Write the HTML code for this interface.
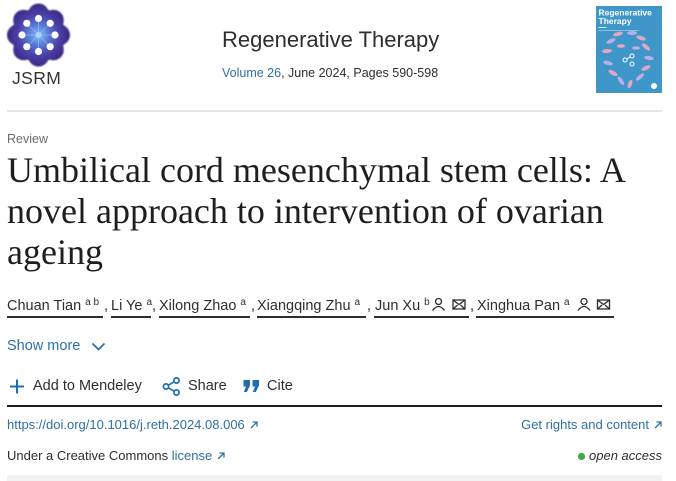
<!DOCTYPE html>
<html>
<head>
<meta charset="utf-8">
<style>
  html,body{margin:0;padding:0;}
  body{width:676px;height:481px;overflow:hidden;position:relative;background:#fff;font-family:"Liberation Sans",Arial,sans-serif;color:#2e2e2e;}
  .a{position:absolute;white-space:nowrap;}
  .link{color:#2f6fa5;}
  .sup{font-size:10px;position:relative;top:-5px;margin-left:4px;}
  .ul{position:absolute;top:316px;height:1.5px;background:#2e2e2e;}
  .au{position:absolute;top:299.4px;font-size:14.5px;line-height:14.5px;white-space:nowrap;color:#2e2e2e;}
</style>
</head>
<body>

<!-- Logo -->
<svg class="a" style="left:0;top:0" width="80" height="92" viewBox="0 0 80 92">
  <defs>
    <radialGradient id="lg" cx="38.5" cy="35" r="32" gradientUnits="userSpaceOnUse">
      <stop offset="0%" stop-color="#8cc0f5"/>
      <stop offset="30%" stop-color="#5a7fd8"/>
      <stop offset="65%" stop-color="#4a3fa8"/>
      <stop offset="100%" stop-color="#3a2680"/>
    </radialGradient>
    <filter id="bl" x="-10%" y="-10%" width="120%" height="120%"><feGaussianBlur stdDeviation="0.7"/></filter>
  </defs>
  <g fill="url(#lg)" filter="url(#bl)">
    <circle cx="38.5" cy="35" r="27"/>
    <circle cx="38.5" cy="14" r="10.5"/><circle cx="38.5" cy="56" r="10.5"/>
    <circle cx="17.5" cy="35" r="10.5"/><circle cx="59.5" cy="35" r="10.5"/>
    <circle cx="23.7" cy="20.2" r="10.5"/><circle cx="53.3" cy="20.2" r="10.5"/>
    <circle cx="23.7" cy="49.8" r="10.5"/><circle cx="53.3" cy="49.8" r="10.5"/>
  </g>
  <g stroke="#8fc3f5" stroke-width="0.8" opacity="0.8">
    <line x1="38.5" y1="22" x2="38.5" y2="48"/>
    <line x1="25.5" y1="35" x2="51.5" y2="35"/>
    <line x1="29" y1="25.5" x2="48" y2="44.5"/>
    <line x1="48" y1="25.5" x2="29" y2="44.5"/>
  </g>
  <circle cx="38.5" cy="35" r="3" fill="#a8d6ff"/>
  <g fill="#fff">
    <circle cx="38.5" cy="18.5" r="3.6"/><circle cx="38.5" cy="51.5" r="3.6"/>
    <circle cx="22" cy="35" r="3.6"/><circle cx="55" cy="35" r="3.6"/>
    <circle cx="26.8" cy="23.3" r="3.6"/><circle cx="50.2" cy="23.3" r="3.6"/>
    <circle cx="26.8" cy="46.7" r="3.6"/><circle cx="50.2" cy="46.7" r="3.6"/>
  </g>
</svg>
<div class="a" style="left:12px;top:70px;font-size:17.5px;line-height:17.5px;letter-spacing:0.4px;color:#333;">JSRM</div>

<!-- Journal title -->
<div class="a" style="left:222px;top:29px;font-size:22px;line-height:22px;color:#2e2e2e;">Regenerative Therapy</div>
<div class="a" style="left:222px;top:67.4px;font-size:12.5px;line-height:12.5px;"><span class="link">Volume 26</span>, June 2024, Pages 590-598</div>

<!-- Cover -->
<svg class="a" style="left:596px;top:6px" width="66" height="87" viewBox="0 0 66 87">
  <rect x="0" y="0" width="66" height="87" fill="#3f97c9"/>
  <text x="2.5" y="9.5" font-family="Liberation Sans, sans-serif" font-weight="bold" font-size="8.5" fill="#fff">Regenerative</text>
  <text x="2.5" y="18" font-family="Liberation Sans, sans-serif" font-weight="bold" font-size="8.5" fill="#fff">Therapy</text>
  <rect x="2.5" y="21" width="8" height="1" fill="#cfe6f5"/>
  <rect x="2.5" y="24" width="40" height="0.8" fill="#9ccbe6"/>
  <g>
    <ellipse cx="22" cy="28" rx="5" ry="2" fill="#e6a6c2" transform="rotate(-15 22 28)"/>
    <ellipse cx="36" cy="27" rx="5" ry="2" fill="#b9aee6"/>
    <ellipse cx="45" cy="32" rx="5" ry="2" fill="#e6a6c2" transform="rotate(20 45 32)"/>
    <ellipse cx="15" cy="35" rx="5" ry="2" fill="#b9aee6" transform="rotate(-25 15 35)"/>
    <ellipse cx="50" cy="41" rx="5" ry="2" fill="#e6a6c2" transform="rotate(40 50 41)"/>
    <ellipse cx="11" cy="45" rx="5" ry="2" fill="#e6a6c2" transform="rotate(-5 11 45)"/>
    <ellipse cx="53" cy="52" rx="5" ry="2" fill="#b9aee6" transform="rotate(10 53 52)"/>
    <ellipse cx="12" cy="57" rx="5" ry="2" fill="#b9aee6" transform="rotate(15 12 57)"/>
    <ellipse cx="50" cy="62" rx="5" ry="2" fill="#e6a6c2" transform="rotate(-25 50 62)"/>
    <ellipse cx="17" cy="67" rx="5" ry="2" fill="#e6a6c2" transform="rotate(30 17 67)"/>
    <ellipse cx="44" cy="71" rx="5" ry="2" fill="#b9aee6" transform="rotate(-40 44 71)"/>
    <ellipse cx="25" cy="75" rx="5" ry="2" fill="#b9aee6" transform="rotate(55 25 75)"/>
    <ellipse cx="34" cy="78" rx="4.5" ry="2" fill="#e6a6c2" transform="rotate(-70 34 78)"/>
    <ellipse cx="25" cy="40" rx="4" ry="1.8" fill="#e6a6c2"/>
    <ellipse cx="40" cy="42" rx="4" ry="1.8" fill="#b9aee6"/>
  </g>
  <g stroke="#fff" stroke-width="1" fill="none">
    <circle cx="29" cy="54" r="2"/>
    <circle cx="36" cy="50" r="2"/>
    <circle cx="36" cy="58" r="2"/>
    <line x1="31" y1="53" x2="34" y2="51"/>
  </g>
  <circle cx="58" cy="80" r="3" fill="#fff"/>
</svg>

<!-- header divider -->
<div class="a" style="left:7px;top:109.5px;width:655px;height:2px;background:#e6e6e6;"></div>

<!-- Review -->
<div class="a" style="left:7px;top:133px;font-size:12.5px;line-height:12.5px;color:#6b6b6b;">Review</div>

<!-- Title -->
<div class="a" style="left:7px;top:149.85px;font-family:'Liberation Serif','Times New Roman',serif;font-size:36px;line-height:41px;color:#1e1e1e;">Umbilical cord mesenchymal stem cells: A<br>novel approach to intervention of ovarian<br>ageing</div>

<!-- Authors -->
<div class="au" style="left:7px;">Chuan Tian<span class="sup">a b</span></div>
<div class="ul" style="left:7px;width:96px;"></div>
<div class="au" style="left:104px;">,</div>

<div class="au" style="left:111px;">Li Ye<span class="sup">a</span></div>
<div class="ul" style="left:111px;width:40px;"></div>
<div class="au" style="left:152px;">,</div>

<div class="au" style="left:159px;">Xilong Zhao<span class="sup">a</span></div>
<div class="ul" style="left:159px;width:91px;"></div>
<div class="au" style="left:251px;">,</div>

<div class="au" style="left:257px;">Xiangqing Zhu<span class="sup">a</span></div>
<div class="ul" style="left:257px;width:109px;"></div>
<div class="au" style="left:367px;">,</div>

<div class="au" style="left:375px;">Jun Xu<span class="sup">b</span></div>
<div class="ul" style="left:374px;width:95px;"></div>
<div class="au" style="left:470px;">,</div>

<div class="au" style="left:477px;">Xinghua Pan<span class="sup">a</span></div>
<div class="ul" style="left:476px;width:138px;"></div>

<!-- icons -->
<svg class="a" style="left:0;top:0;" width="676" height="481">
  <g stroke="#2e2e2e" stroke-width="1.3" fill="none">
    <circle cx="438.5" cy="301.5" r="3"/>
    <path d="M432.5 310.5 q6 -8 12 0"/>
    <rect x="453" y="300" width="12" height="9"/>
    <path d="M453 300 l6 4.5 l6 -4.5 M453 309 l4.5 -4 M465 309 l-4.5 -4"/>
    <circle cx="584" cy="301.5" r="3"/>
    <path d="M578 310.5 q6 -8 12 0"/>
    <rect x="597.5" y="300" width="12" height="9"/>
    <path d="M597.5 300 l6 4.5 l6 -4.5 M597.5 309 l4.5 -4 M609.5 309 l-4.5 -4"/>
  </g>

  <!-- Show more chevron -->
  <polyline points="92.5,343.5 98.5,349.5 104.5,343.5" fill="none" stroke="#2f6fa5" stroke-width="1.8"/>

  <!-- Plus -->
  <g stroke="#1f6fae" stroke-width="2">
    <line x1="10" y1="386.5" x2="24" y2="386.5"/>
    <line x1="17" y1="379.5" x2="17" y2="393.5"/>
  </g>
  <!-- Share -->
  <g stroke="#1f6fae" stroke-width="1.7" fill="none">
    <circle cx="176.5" cy="380.5" r="2.6"/>
    <circle cx="166" cy="386.5" r="2.6"/>
    <circle cx="176.5" cy="392.5" r="2.6"/>
    <line x1="168.3" y1="385.2" x2="174.2" y2="381.8"/>
    <line x1="168.3" y1="387.8" x2="174.2" y2="391.2"/>
  </g>
  <!-- Cite -->
  <g fill="#1f6fae">
    <path d="M243.5 380 h6.5 v5.5 l-3.2 6.5 h-3 l2.3 -5.5 h-2.6 z"/>
    <path d="M252.5 380 h6.5 v5.5 l-3.2 6.5 h-3 l2.3 -5.5 h-2.6 z"/>
  </g>

  <!-- green dot -->
  <circle cx="581.5" cy="456.5" r="3.6" fill="#3dab4a"/>
</svg>

<!-- Show more -->
<div class="a link" style="left:7px;top:339.2px;font-size:14.5px;line-height:14.5px;">Show more</div>

<!-- action row -->
<div class="a" style="left:33px;top:379.2px;font-size:14.5px;line-height:14.5px;">Add to Mendeley</div>
<div class="a" style="left:188px;top:379.2px;font-size:14.5px;line-height:14.5px;">Share</div>
<div class="a" style="left:267px;top:379.2px;font-size:14.5px;line-height:14.5px;">Cite</div>

<!-- black divider -->
<div class="a" style="left:7px;top:405px;width:655px;height:2px;background:#1f1f1f;"></div>

<!-- DOI row -->
<div class="a link" style="left:7px;top:418px;font-size:13px;line-height:13px;">https://doi.org/10.1016/j.reth.2024.08.006<svg style="margin-left:5px;vertical-align:0px" width="8" height="8" viewBox="0 0 8 8"><g stroke="#2f6fa5" stroke-width="1.3" fill="none"><line x1="1" y1="7" x2="7" y2="1"/><polyline points="2.5,1 7,1 7,5.5"/></g></svg></div>
<div class="a link" style="right:14px;top:418px;font-size:13px;line-height:13px;">Get rights and content<svg style="margin-left:5px;vertical-align:0px" width="8" height="8" viewBox="0 0 8 8"><g stroke="#2f6fa5" stroke-width="1.3" fill="none"><line x1="1" y1="7" x2="7" y2="1"/><polyline points="2.5,1 7,1 7,5.5"/></g></svg></div>

<!-- license row -->
<div class="a" style="left:7px;top:449px;font-size:13px;line-height:13px;">Under a Creative Commons <span class="link">license</span><svg style="margin-left:5px;vertical-align:0px" width="8" height="8" viewBox="0 0 8 8"><g stroke="#2f6fa5" stroke-width="1.3" fill="none"><line x1="1" y1="7" x2="7" y2="1"/><polyline points="2.5,1 7,1 7,5.5"/></g></svg></div>
<div class="a" style="right:14px;top:449px;font-size:13px;line-height:13px;font-style:italic;">open access</div>

<!-- bottom band -->
<div class="a" style="left:7px;top:475px;width:655px;height:6px;background:#f2f2f2;"></div>

</body>
</html>
